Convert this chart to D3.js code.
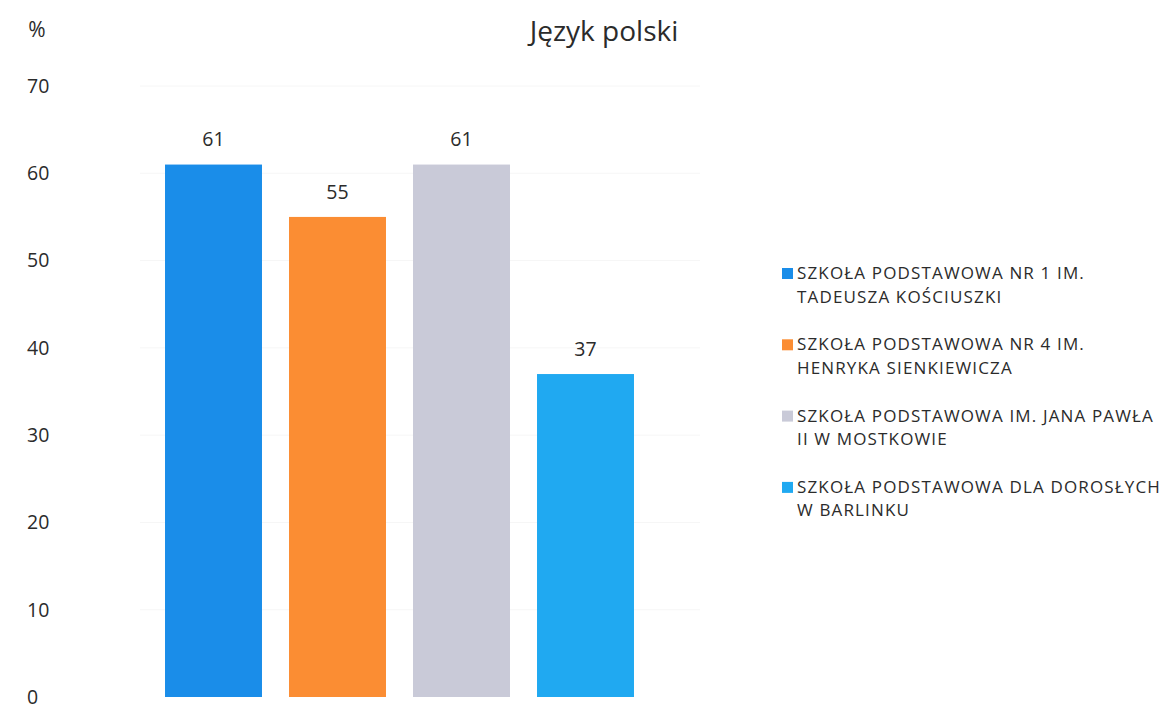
<!DOCTYPE html>
<html><head><meta charset="utf-8">
<script src="https://cdn.jsdelivr.net/npm/d3@7/dist/d3.min.js"></script>
<style>body{margin:0;background:#fff;} svg{display:block;}</style>
</head><body><svg id="c" width="1172" height="711"></svg>
<script>
const categories = ["SZKOŁA PODSTAWOWA NR 1 IM. TADEUSZA KOŚCIUSZKI","SZKOŁA PODSTAWOWA NR 4 IM. HENRYKA SIENKIEWICZA","SZKOŁA PODSTAWOWA IM. JANA PAWŁA II W MOSTKOWIE","SZKOŁA PODSTAWOWA DLA DOROSŁYCH W BARLINKU"];
const legendLines = [["SZKOŁA PODSTAWOWA NR 1 IM.","TADEUSZA KOŚCIUSZKI"],["SZKOŁA PODSTAWOWA NR 4 IM.","HENRYKA SIENKIEWICZA"],["SZKOŁA PODSTAWOWA IM. JANA PAWŁA","II W MOSTKOWIE"],["SZKOŁA PODSTAWOWA DLA DOROSŁYCH","W BARLINKU"]];
const values = [61, 55, 61, 37];
const colors = ["#1a8de9","#fb8d33","#c9cad8","#20a9f1"];
const yTicks = [0,10,20,30,40,50,60,70];

const svg = d3.select("#c");
const font = "'Open Sans', sans-serif";
const y = d3.scaleLinear().domain([0,70]).range([697,86]);
const x = d3.scaleBand().domain(categories).range([151.5,647.5]).paddingInner(0.218).paddingOuter(0.109);

svg.append("g").selectAll("line").data(yTicks.slice(1)).join("line")
  .attr("x1",140).attr("x2",700).attr("y1",d=>y(d)).attr("y2",d=>y(d))
  .attr("stroke","#f6f6f6").attr("stroke-width",1);

svg.append("g").selectAll("text").data(yTicks).join("text")
  .attr("x",27).attr("y",d=>y(d)).attr("dy","0.35em").attr("text-anchor","start")
  .attr("font-family",font).attr("font-size",19.5).attr("fill","#2b2b2b").text(d=>d);

svg.append("text").attr("x",37).attr("y",30).attr("dy","0.35em").attr("text-anchor","middle")
  .attr("font-family",font).attr("font-size",21).attr("fill","#2b2b2b").text("%");

svg.append("text").attr("x",604).attr("y",31).attr("dy","0.35em").attr("text-anchor","middle")
  .attr("font-family",font).attr("font-size",28).attr("fill","#2b2b2b").text("Język polski");

svg.append("g").selectAll("rect").data(categories).join("rect")
  .attr("x",d=>x(d)).attr("width",x.bandwidth())
  .attr("y",(d,i)=>y(values[i])).attr("height",(d,i)=>y(0)-y(values[i]))
  .attr("fill",(d,i)=>colors[i]);

svg.append("g").selectAll("text").data(categories).join("text")
  .attr("x",d=>x(d)+x.bandwidth()/2).attr("y",(d,i)=>y(values[i])-25).attr("dy","0.35em")
  .attr("text-anchor","middle").attr("font-family",font).attr("font-size",19.5).attr("fill","#2b2b2b")
  .text((d,i)=>values[i]);

const lg = svg.append("g").selectAll("g").data(categories).join("g")
  .attr("transform",(d,i)=>`translate(782,${273+i*71.3})`);
lg.append("rect").attr("x",0).attr("y",-5).attr("width",11).attr("height",11).attr("fill",(d,i)=>colors[i]);
lg.each(function(d,i){
  const t = d3.select(this).append("text").attr("font-family",font).attr("font-size",17)
    .attr("letter-spacing",1.15).attr("fill","#2b2b2b");
  legendLines[i].forEach((ln,j)=>t.append("tspan").attr("x",15).attr("y",j*23.6).attr("dy","0.35em").text(ln));
});
</script></body></html>
